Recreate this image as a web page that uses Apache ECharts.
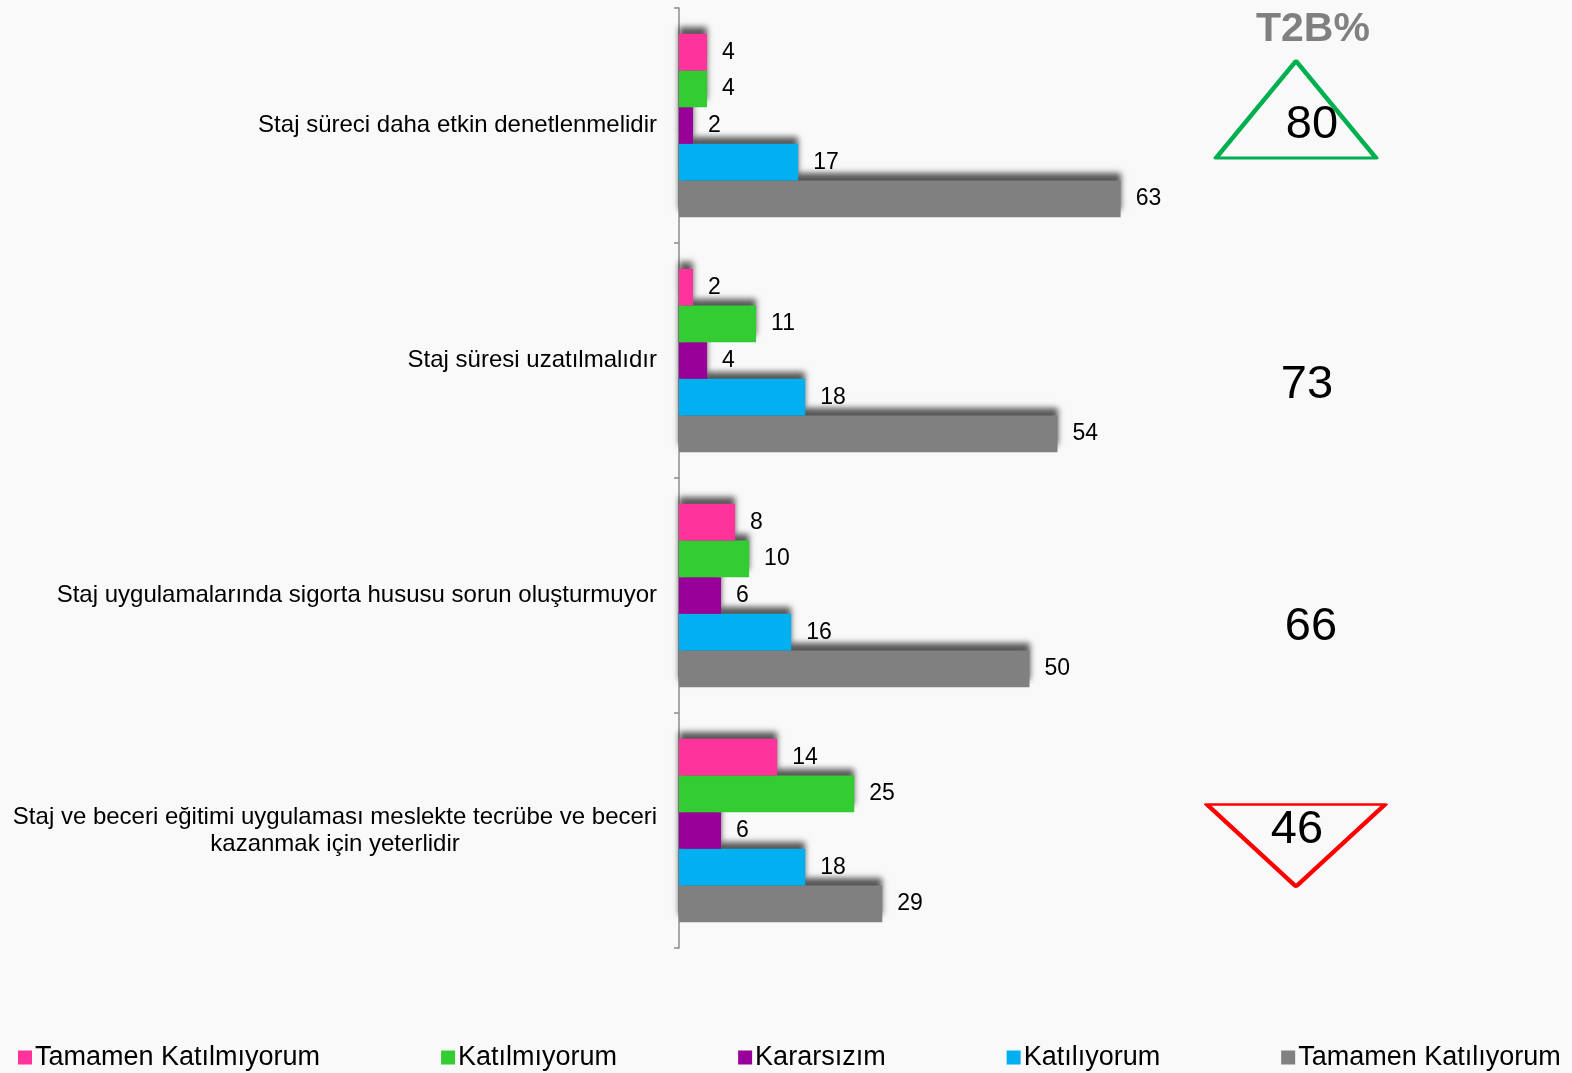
<!DOCTYPE html>
<html lang="tr">
<head>
    <meta charset="UTF-8">
    <title>Staj değerlendirmesi</title>
    <script src="https://cdn.jsdelivr.net/npm/echarts/dist/echarts.min.js"></script>
    <style>
        html, body { margin: 0; padding: 0; background: #f9f9f9; }
        #chart { width: 1572px; height: 1073px; }
    </style>
</head>
<body>
<div id="chart"></div>

<script>
    // kategoriler (yukarıdan aşağıya)
    const categories = [
        'Staj süreci daha etkin denetlenmelidir',
        'Staj süresi uzatılmalıdır',
        'Staj uygulamalarında sigorta hususu sorun oluşturmuyor',
        'Staj ve beceri eğitimi uygulaması meslekte tecrübe ve beceri\nkazanmak için yeterlidir'
    ];
    const seriesNames = ['Tamamen Katılmıyorum', 'Katılmıyorum', 'Kararsızım', 'Katılıyorum', 'Tamamen Katılıyorum'];
    const tamamenKatilmiyorum = [4, 2, 8, 14];
    const katilmiyorum = [4, 11, 10, 25];
    const kararsizim = [2, 4, 6, 6];
    const katiliyorum = [17, 18, 16, 18];
    const tamamenKatiliyorum = [63, 54, 50, 29];
    const t2b = [80, 73, 66, 46];

    const colors = ['#FF3399', '#33CC33', '#990099', '#00B0F0', '#808080'];
    const values = [tamamenKatilmiyorum, katilmiyorum, kararsizim, katiliyorum, tamamenKatiliyorum];
    const FONT = '"Liberation Sans", Arial, sans-serif';

    const chart = echarts.init(document.getElementById('chart'));

    const barSeries = seriesNames.map((name, i) => ({
        name: name,
        type: 'bar',
        xAxisIndex: 0,
        yAxisIndex: 0,
        data: values[i],
        z: 10 - i, // üstteki çubuk alttakinin gölgesini örtsün
        barGap: '0%',
        barCategoryGap: '22%',
        itemStyle: {
            color: colors[i],
            shadowColor: 'rgba(0,0,0,0.65)',
            shadowBlur: 6,
            shadowOffsetY: -7,
            shadowOffsetX: 0
        },
        label: {
            show: true,
            position: 'right',
            distance: 15,
            color: '#000',
            fontSize: 23,
            fontFamily: FONT
        }
    }));

    // T2B sütunu: ilk ve son satırda üçgen
    const t2bStyle = [
        { symbol: 'triangle', size: [160, 97], offset: [0, -16], rotate: 0, border: '#00B050', label: [16, 16] },
        { symbol: 'rect', size: [1, 1], offset: [0, 0], rotate: 0, border: 'rgba(0,0,0,0)', label: [11, 25] },
        { symbol: 'rect', size: [1, 1], offset: [0, 0], rotate: 0, border: 'rgba(0,0,0,0)', label: [15, 32] },
        { symbol: 'triangle', size: [178, 82], offset: [0, 15], rotate: 180, border: '#FF0000', label: [1, -15] }
    ];

    const t2bSeries = {
        name: 'T2B',
        type: 'scatter',
        xAxisIndex: 1,
        yAxisIndex: 1,
        silent: true,
        data: t2b.map((v, i) => ({
            value: [0, i, v],
            symbol: t2bStyle[i].symbol,
            symbolSize: t2bStyle[i].size,
            symbolOffset: t2bStyle[i].offset,
            symbolRotate: t2bStyle[i].rotate,
            itemStyle: {
                color: 'rgba(0,0,0,0)',
                borderColor: t2bStyle[i].border,
                borderWidth: 4,
                borderJoin: 'round',
                opacity: 1
            },
            label: { offset: t2bStyle[i].label, color: '#000' }
        })),
        itemStyle: { opacity: 1 },
        label: {
            show: true,
            position: 'inside',
            formatter: p => p.value[2],
            color: '#000',
            fontSize: 47,
            fontFamily: FONT
        }
    };

    const option = {
        backgroundColor: '#f9f9f9',
        animation: false,
        title: {
            text: 'T2B%',
            left: 1251,
            top: 4,
            textStyle: { color: '#808080', fontSize: 41, fontWeight: 'bold', fontFamily: FONT }
        },
        legend: {
            data: seriesNames,
            left: 13,
            top: 1039,
            icon: 'rect',
            itemWidth: 14,
            itemHeight: 14,
            itemGap: 121,
            textStyle: { color: '#000', fontSize: 27, fontFamily: FONT, padding: [0, 0, 0, -2] }
        },
        grid: [
            { left: 679, top: 8, width: 701, bottom: 125 },
            { left: 1216, top: 8, width: 160, bottom: 125 }
        ],
        xAxis: [
            { type: 'value', gridIndex: 0, min: 0, max: 100, show: false },
            { type: 'value', gridIndex: 1, min: -1, max: 1, show: false }
        ],
        yAxis: [
            {
                type: 'category',
                gridIndex: 0,
                data: categories,
                inverse: true,
                axisLine: { lineStyle: { color: '#8c8c8c', width: 1.5 } },
                axisTick: { show: true, length: 5, lineStyle: { color: '#8c8c8c', width: 1.5 } },
                axisLabel: {
                    interval: 0,
                    margin: 22,
                    color: '#000',
                    fontSize: 24,
                    fontFamily: FONT,
                    formatter: function (v) {
                        if (v.indexOf('\n') < 0) return v;
                        return v.split('\n').map(s => '{c|' + s + '}').join('\n');
                    },
                    rich: {
                        c: { width: 644, align: 'center', fontSize: 24, lineHeight: 27, color: '#000', fontFamily: FONT }
                    }
                }
            },
            {
                type: 'category',
                gridIndex: 1,
                data: categories,
                inverse: true,
                show: false
            }
        ],
        series: barSeries.concat([t2bSeries])
    };
    chart.setOption(option);
</script>
</body>
</html>
